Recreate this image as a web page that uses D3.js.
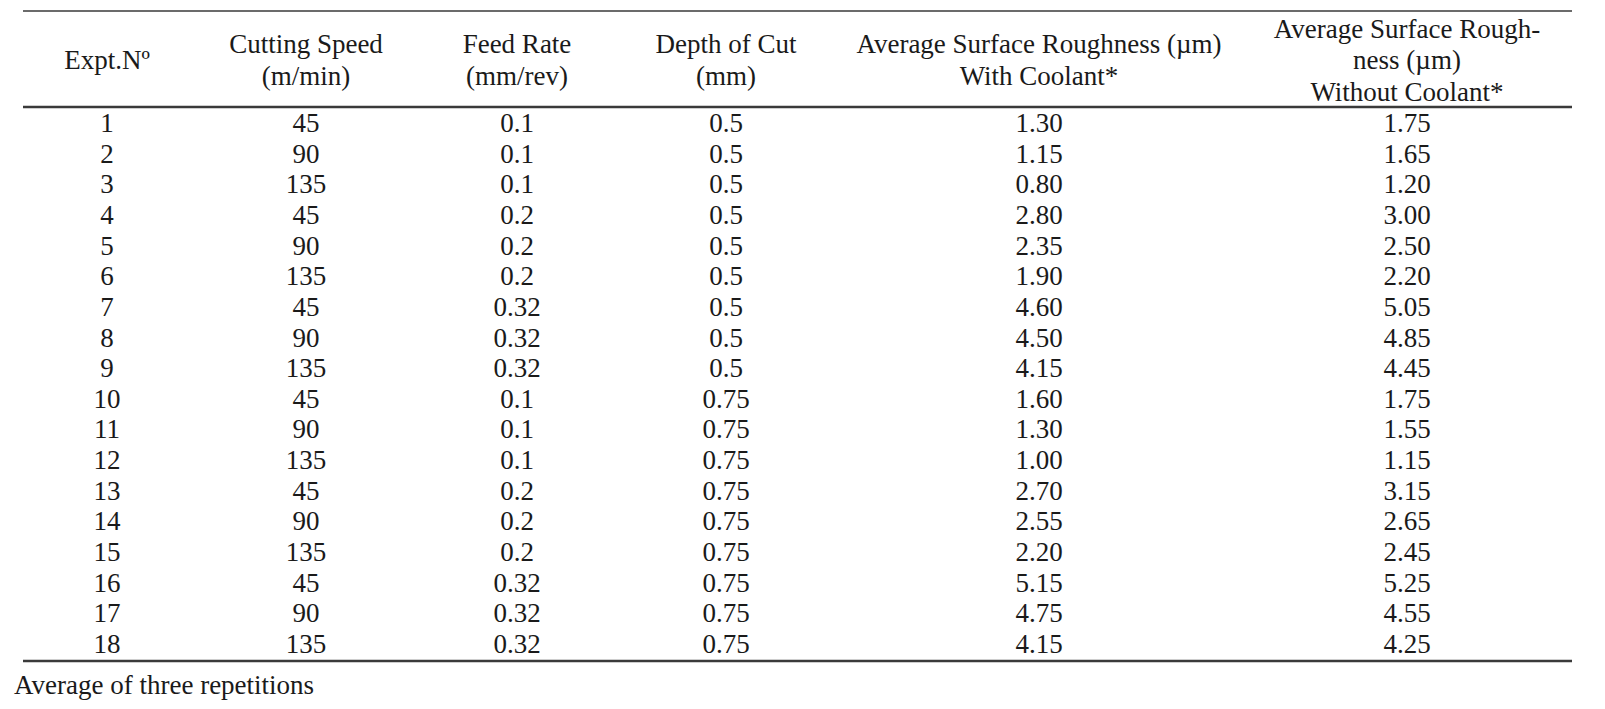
<!DOCTYPE html>
<html>
<head>
<meta charset="utf-8">
<script src="https://cdn.jsdelivr.net/npm/d3@7"></script>
<style>
  html, body { margin: 0; padding: 0; background: #fff; overflow: hidden; }
  svg { display: block; }
  svg text { font-family: "Liberation Serif", "Times New Roman", serif; fill: #1a1a1a; }
</style>
</head>
<body>
<div id="chart"></div>
<script>
var width = 1605, height = 709;

// data
var expt = [1,2,3,4,5,6,7,8,9,10,11,12,13,14,15,16,17,18];
var speed = ["45","90","135","45","90","135","45","90","135","45","90","135","45","90","135","45","90","135"];
var feed = ["0.1","0.1","0.1","0.2","0.2","0.2","0.32","0.32","0.32","0.1","0.1","0.1","0.2","0.2","0.2","0.32","0.32","0.32"];
var depth = ["0.5","0.5","0.5","0.5","0.5","0.5","0.5","0.5","0.5","0.75","0.75","0.75","0.75","0.75","0.75","0.75","0.75","0.75"];
var withCoolant = ["1.30","1.15","0.80","2.80","2.35","1.90","4.60","4.50","4.15","1.60","1.30","1.00","2.70","2.55","2.20","5.15","4.75","4.15"];
var withoutCoolant = ["1.75","1.65","1.20","3.00","2.50","2.20","5.05","4.85","4.45","1.75","1.55","1.15","3.15","2.65","2.45","5.25","4.55","4.25"];

var headers = [
  ["Expt.N\u00ba"],
  ["Cutting Speed", "(m/min)"],
  ["Feed Rate", "(mm/rev)"],
  ["Depth of Cut", "(mm)"],
  ["Average Surface Roughness (\u00b5m)", "With Coolant*"],
  ["Average Surface Rough-", "ness (\u00b5m)", "Without Coolant*"]
];
var footnote = "Average of three repetitions";

var columns = [expt, speed, feed, depth, withCoolant, withoutCoolant];

// layout
var colX = d3.scaleOrdinal().domain(d3.range(6)).range([107, 306, 517, 726, 1039, 1407]);
var left = 23, right = 1572;
var topRule = 11, headRule = 107, bottomRule = 661;
var fs = "27px";

// row baselines
var y = d3.scalePoint()
  .domain(expt)
  .range([132, 653]);

var svg = d3.select("#chart").append("svg")
  .attr("width", width)
  .attr("height", height);

// rules
[[topRule, 1.6], [headRule, 2.4], [bottomRule, 2.4]].forEach(function(r) {
  svg.append("line")
    .attr("x1", left).attr("x2", right)
    .attr("y1", r[0]).attr("y2", r[0])
    .attr("stroke", "#3a3a3a")
    .attr("stroke-width", r[1]);
});

// header (baselines centred on 69)
var lh = 31.5;
headers.forEach(function(lines, c) {
  var start = 69 - (lines.length - 1) * lh / 2;
  svg.append("g").selectAll("text")
    .data(lines)
    .join("text")
      .attr("x", colX(c))
      .attr("y", function(d, i) { return start + i * lh; })
      .attr("text-anchor", "middle")
      .style("font-size", fs)
      .text(function(d) { return d; });
});

// body
columns.forEach(function(col, c) {
  svg.append("g").selectAll("text")
    .data(col)
    .join("text")
      .attr("x", colX(c))
      .attr("y", function(d, i) { return y(expt[i]); })
      .attr("text-anchor", "middle")
      .style("font-size", fs)
      .text(function(d) { return d; });
});

svg.append("text")
  .attr("x", 14)
  .attr("y", 694)
  .style("font-size", fs)
  .text(footnote);
</script>
</body>
</html>
